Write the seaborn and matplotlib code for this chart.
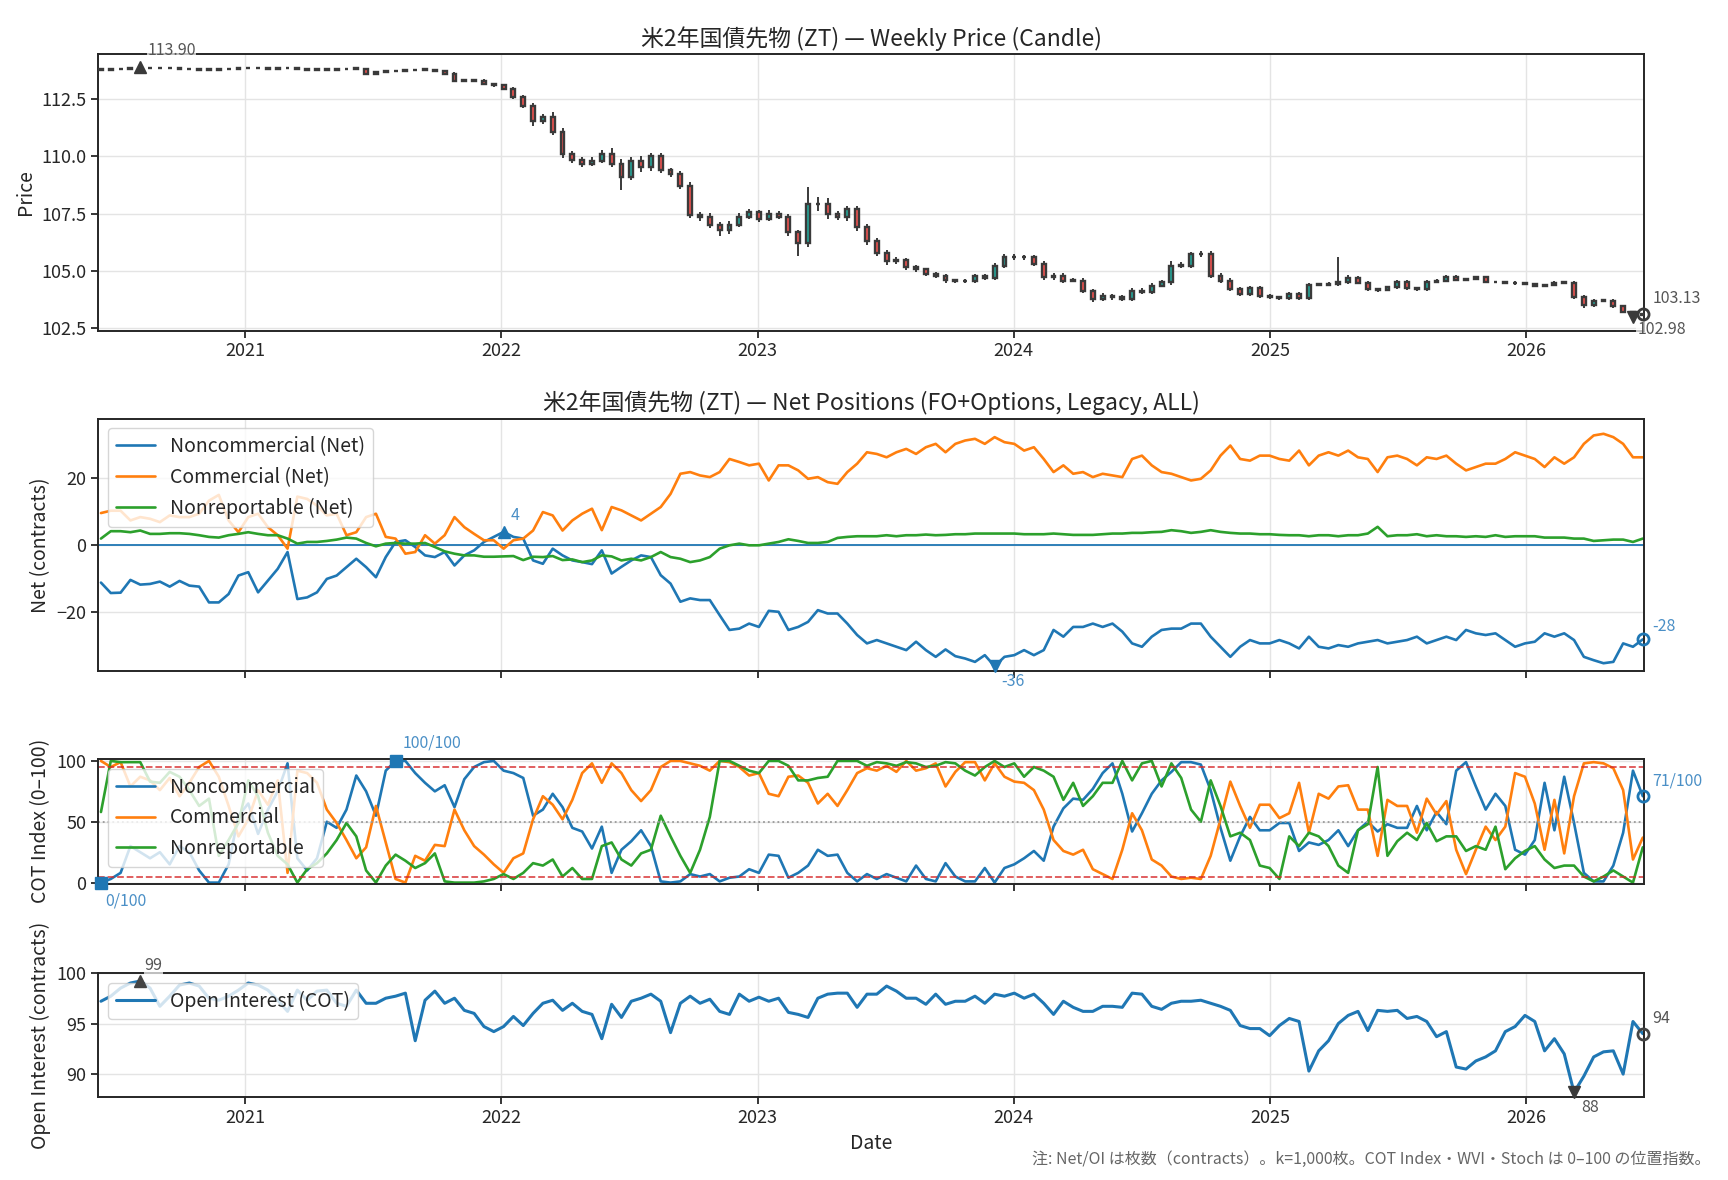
import numpy as np
import pandas as pd
import matplotlib
matplotlib.use('Agg')
import matplotlib.pyplot as plt
import matplotlib.dates as mdates
import seaborn as sns

# biweekly sampling of the weekly series
dates = pd.date_range('2020-06-09', periods=158, freq='14D')

closes = [113.78, 113.80, 113.82, 113.85, 113.86, 113.85, 113.85, 113.84, 113.83, 113.80,
          113.78, 113.78, 113.80, 113.83, 113.84, 113.84, 113.85, 113.83, 113.85, 113.87,
          113.80, 113.78, 113.78, 113.78, 113.80, 113.82, 113.82, 113.62, 113.68, 113.72,
          113.75, 113.76, 113.78, 113.78, 113.73, 113.62, 113.30, 113.33, 113.30, 113.15,
          113.10, 112.95, 112.60, 112.20, 111.55, 111.72, 111.07, 110.10, 109.85, 109.68,
          109.82, 110.10, 109.68, 109.10, 109.82, 109.53, 110.00, 109.40, 109.24, 108.73,
          107.46, 107.37, 107.02, 106.78, 107.02, 107.37, 107.56, 107.27, 107.50, 107.37,
          106.68, 106.20, 107.92, 107.92, 107.48, 107.34, 107.70, 106.90, 106.32, 105.80,
          105.44, 105.47, 105.18, 105.07, 104.88, 104.78, 104.59, 104.56, 104.56, 104.78,
          104.70, 105.22, 105.60, 105.60, 105.60, 105.30, 104.72, 104.80, 104.58, 104.58,
          104.14, 103.77, 103.92, 103.85, 103.77, 104.14, 104.06, 104.36, 104.50, 105.23,
          105.23, 105.72, 105.75, 104.80, 104.58, 104.21, 103.99, 104.25, 103.92, 103.85,
          103.81, 104.00, 103.81, 104.39, 104.39, 104.43, 104.53, 104.68, 104.49, 104.20,
          104.17, 104.29, 104.53, 104.24, 104.20, 104.53, 104.58, 104.75, 104.61, 104.64,
          104.75, 104.51, 104.53, 104.49, 104.46, 104.43, 104.35, 104.39, 104.49, 104.49,
          103.88, 103.52, 103.71, 103.71, 103.47, 103.23, 103.08, 103.13]

wick_hi = [0.03, 0.03, 0.03, 0.03, 0.04, 0.02, 0.02, 0.02, 0.02, 0.02,
           0.02, 0.02, 0.02, 0.02, 0.02, 0.02, 0.02, 0.02, 0.02, 0.02,
           0.02, 0.02, 0.02, 0.02, 0.02, 0.02, 0.02, 0.03, 0.03, 0.03,
           0.02, 0.02, 0.02, 0.02, 0.03, 0.03, 0.05, 0.05, 0.05, 0.06,
           0.05, 0.08, 0.08, 0.10, 0.15, 0.12, 0.20, 0.15, 0.15, 0.12,
           0.15, 0.20, 0.25, 0.20, 0.15, 0.20, 0.15, 0.15, 0.10, 0.12,
           0.15, 0.12, 0.15, 0.12, 0.15, 0.15, 0.15, 0.12, 0.15, 0.12,
           0.10, 0.12, 0.74, 0.30, 0.25, 0.15, 0.15, 0.15, 0.15, 0.12,
           0.12, 0.15, 0.10, 0.10, 0.08, 0.08, 0.08, 0.08, 0.08, 0.10,
           0.10, 0.12, 0.15, 0.12, 0.10, 0.10, 0.15, 0.10, 0.10, 0.10,
           0.10, 0.08, 0.10, 0.08, 0.08, 0.12, 0.10, 0.10, 0.10, 0.20,
           0.15, 0.10, 0.10, 0.10, 0.10, 0.10, 0.08, 0.08, 0.08, 0.06,
           0.06, 0.06, 0.06, 0.10, 0.08, 0.10, 1.10, 0.15, 0.10, 0.06,
           0.06, 0.06, 0.06, 0.06, 0.06, 0.08, 0.06, 0.06, 0.06, 0.06,
           0.05, 0.05, 0.05, 0.05, 0.05, 0.05, 0.05, 0.05, 0.05, 0.06,
           0.08, 0.08, 0.08, 0.06, 0.06, 0.05, 0.04, 0.05]

wick_lo = [0.03, 0.02, 0.02, 0.02, 0.02, 0.02, 0.02, 0.02, 0.02, 0.02,
           0.02, 0.02, 0.02, 0.02, 0.02, 0.02, 0.02, 0.02, 0.02, 0.02,
           0.02, 0.02, 0.02, 0.02, 0.02, 0.02, 0.02, 0.05, 0.03, 0.02,
           0.02, 0.02, 0.02, 0.02, 0.02, 0.04, 0.06, 0.05, 0.05, 0.05,
           0.05, 0.06, 0.08, 0.10, 0.20, 0.15, 0.15, 0.15, 0.12, 0.15,
           0.10, 0.12, 0.15, 0.55, 0.15, 0.20, 0.15, 0.12, 0.12, 0.15,
           0.15, 0.20, 0.15, 0.25, 0.15, 0.12, 0.10, 0.15, 0.10, 0.12,
           0.15, 0.54, 0.15, 0.30, 0.20, 0.12, 0.15, 0.15, 0.20, 0.15,
           0.20, 0.12, 0.12, 0.10, 0.10, 0.10, 0.10, 0.10, 0.10, 0.10,
           0.08, 0.10, 0.08, 0.10, 0.10, 0.10, 0.12, 0.10, 0.10, 0.08,
           0.10, 0.12, 0.08, 0.10, 0.08, 0.08, 0.08, 0.08, 0.08, 0.10,
           0.10, 0.10, 0.10, 0.10, 0.12, 0.10, 0.10, 0.08, 0.08, 0.08,
           0.08, 0.06, 0.08, 0.06, 0.06, 0.06, 0.10, 0.08, 0.08, 0.06,
           0.08, 0.06, 0.06, 0.06, 0.06, 0.06, 0.06, 0.06, 0.06, 0.06,
           0.05, 0.05, 0.05, 0.05, 0.06, 0.05, 0.05, 0.05, 0.05, 0.05,
           0.10, 0.12, 0.08, 0.08, 0.08, 0.08, 0.10, 0.05]

net_noncomm = [-11.1, -14.2, -14.1, -10.3, -11.7, -11.5, -10.8, -12.3, -10.6, -12.0,
               -12.3, -17.0, -17.0, -14.5, -9.0, -8.0, -14.0, -10.5, -7.0, -2.0,
               -16.0, -15.5, -14.0, -10.0, -9.0, -6.5, -4.0, -6.5, -9.5, -3.5,
               1.0, 1.5, -0.5, -3.0, -3.5, -2.0, -6.0, -3.0, -1.5, 1.0,
               2.5, 4.0, 2.5, 2.0, -4.5, -5.5, -1.0, -3.0, -4.5, -5.0,
               -5.6, -1.5, -8.4, -6.4, -4.5, -3.0, -3.5, -8.9, -11.4, -16.8,
               -15.8, -16.3, -16.3, -20.8, -25.2, -24.8, -23.3, -24.3, -19.5, -19.8,
               -25.2, -24.3, -22.8, -19.3, -20.3, -20.3, -23.3, -26.7, -29.2, -28.2,
               -29.2, -30.2, -31.2, -28.7, -31.2, -33.2, -31.0, -33.0, -33.7, -34.7,
               -32.7, -36.0, -33.2, -32.7, -31.2, -32.7, -31.2, -25.2, -27.2, -24.3,
               -24.3, -23.3, -24.3, -23.3, -25.7, -29.2, -30.2, -27.2, -25.2, -24.8,
               -24.8, -23.3, -23.3, -27.2, -30.2, -33.2, -30.2, -28.2, -29.2, -29.2,
               -28.2, -29.2, -30.7, -27.2, -30.2, -30.7, -29.7, -30.2, -29.2, -28.7,
               -28.2, -29.2, -28.7, -28.2, -27.2, -29.2, -28.2, -27.2, -28.2, -25.2,
               -26.2, -26.7, -26.2, -28.2, -30.2, -29.2, -28.7, -26.2, -27.2, -26.2,
               -28.2, -33.2, -34.2, -35.1, -34.7, -29.2, -30.2, -28.0]

net_comm = [9.6, 10.3, 10.3, 7.4, 8.4, 7.9, 6.9, 8.9, 8.4, 8.4,
            9.4, 13.3, 15.0, 7.4, 3.9, 8.4, 9.4, 5.4, 3.0, -1.0,
            14.5, 13.8, 11.8, 8.9, 9.4, 3.0, 3.9, 8.4, 9.4, 2.5,
            2.0, -2.5, -2.0, 3.0, 0.5, 3.0, 8.4, 5.4, 3.4, 1.5,
            1.5, -1.0, 1.5, 2.0, 4.4, 9.9, 8.9, 4.4, 7.4, 9.4,
            10.9, 4.5, 11.4, 10.4, 8.9, 7.4, 9.4, 11.4, 15.3, 21.3,
            21.8, 20.8, 20.3, 21.8, 25.7, 24.8, 23.8, 24.3, 19.3, 23.8,
            23.8, 22.3, 19.8, 20.3, 18.8, 18.3, 21.8, 24.3, 27.7, 27.2,
            26.2, 27.7, 28.7, 27.2, 29.2, 30.2, 27.7, 30.2, 31.2, 31.7,
            30.2, 32.2, 30.7, 30.2, 28.2, 29.2, 25.7, 21.8, 23.8, 21.3,
            21.8, 20.3, 21.3, 20.8, 20.3, 25.7, 26.7, 23.8, 21.8, 21.3,
            20.3, 19.3, 19.8, 22.3, 26.7, 29.7, 25.7, 25.2, 26.7, 26.7,
            25.7, 25.2, 28.2, 23.8, 26.7, 27.7, 26.7, 28.2, 26.2, 25.7,
            21.8, 26.2, 26.7, 25.7, 23.8, 26.2, 25.7, 26.7, 24.3, 22.3,
            23.3, 24.3, 24.3, 25.7, 27.7, 26.7, 25.7, 23.3, 26.2, 24.3,
            26.2, 30.2, 32.7, 33.2, 32.2, 30.2, 26.2, 26.2]

net_nonrep = [2.0, 4.2, 4.2, 3.9, 4.4, 3.4, 3.4, 3.6, 3.6, 3.4,
              3.0, 2.5, 2.3, 3.0, 3.4, 3.9, 3.4, 3.0, 3.0, 2.0,
              0.5, 1.0, 1.0, 1.3, 1.7, 2.3, 2.0, 0.7, -0.3, 0.5,
              0.7, 0.5, 0.5, 0.7, -0.5, -1.8, -2.5, -3.0, -3.0, -3.4,
              -3.4, -3.3, -3.2, -4.4, -3.4, -3.5, -3.2, -4.4, -4.2, -5.0,
              -4.5, -3.0, -3.3, -4.5, -4.0, -4.5, -3.5, -2.0, -3.5, -4.0,
              -5.0, -4.5, -3.5, -1.0, 0.0, 0.5, 0.0, 0.0, 0.5, 1.0,
              1.8, 1.3, 0.7, 0.7, 1.0, 2.2, 2.5, 2.7, 2.7, 2.7,
              3.0, 2.7, 3.0, 3.0, 3.2, 3.0, 3.1, 3.3, 3.3, 3.5,
              3.5, 3.5, 3.5, 3.5, 3.3, 3.3, 3.3, 3.5, 3.3, 3.1,
              3.1, 3.1, 3.3, 3.5, 3.5, 3.7, 3.7, 3.9, 4.0, 4.5,
              4.2, 3.7, 4.0, 4.5, 4.0, 3.7, 3.5, 3.5, 3.3, 3.3,
              3.1, 3.0, 3.0, 2.7, 3.0, 3.0, 2.7, 3.0, 3.0, 3.5,
              5.5, 2.7, 3.0, 3.0, 3.3, 2.7, 3.0, 2.7, 2.7, 2.5,
              2.7, 2.5, 3.0, 2.5, 2.7, 2.7, 2.7, 2.3, 2.3, 2.3,
              2.0, 2.0, 1.3, 1.5, 1.7, 1.7, 1.0, 2.0]

cot_noncomm = [0, 3, 8, 30, 25, 20, 25, 15, 30, 25,
               10, 0, 0, 15, 55, 65, 40, 60, 75, 98,
               20, 10, 20, 50, 45, 60, 88, 75, 55, 92,
               100, 100, 90, 82, 75, 80, 62, 85, 95, 99,
               100, 92, 90, 86, 55, 60, 73, 62, 45, 42,
               28, 46, 8, 27, 34, 43, 30, 1, 0, 1,
               7, 5, 7, 1, 4, 5, 11, 8, 23, 22,
               4, 8, 14, 27, 22, 23, 8, 1, 7, 3,
               7, 4, 1, 14, 3, 1, 16, 5, 1, 1,
               12, 0, 12, 15, 20, 26, 18, 46, 61, 69,
               68, 77, 90, 98, 73, 42, 57, 73, 84, 91,
               99, 99, 97, 76, 45, 18, 38, 54, 43, 43,
               49, 49, 26, 33, 31, 35, 43, 30, 43, 50,
               42, 48, 45, 45, 63, 43, 58, 48, 92, 99,
               79, 60, 73, 63, 27, 23, 35, 82, 43, 87,
               49, 8, 1, 1, 14, 41, 92, 71]

cot_comm = [100, 95, 99, 79, 87, 84, 76, 86, 71, 82,
            95, 100, 87, 63, 38, 52, 76, 64, 84, 8,
            92, 90, 82, 60, 49, 35, 20, 29, 63, 33,
            3, 0, 22, 18, 31, 30, 60, 43, 30, 23,
            15, 8, 20, 24, 52, 71, 64, 52, 68, 90,
            98, 82, 98, 90, 76, 67, 76, 95, 100, 100,
            98, 96, 92, 100, 99, 95, 88, 90, 73, 71,
            87, 88, 82, 65, 73, 63, 76, 90, 94, 92,
            96, 91, 100, 92, 94, 98, 79, 91, 99, 99,
            84, 98, 87, 83, 82, 76, 60, 35, 26, 23,
            27, 11, 7, 3, 27, 57, 43, 19, 14, 5,
            3, 4, 3, 22, 52, 83, 63, 45, 64, 64,
            53, 57, 82, 41, 73, 69, 79, 80, 60, 60,
            22, 68, 63, 63, 41, 69, 56, 67, 27, 7,
            27, 46, 35, 46, 90, 87, 65, 27, 68, 24,
            71, 98, 99, 98, 94, 76, 19, 37]

cot_nonrep = [58, 100, 99, 99, 99, 83, 82, 91, 87, 76,
              63, 69, 22, 35, 49, 84, 71, 41, 22, 15,
              0, 11, 16, 24, 35, 49, 38, 10, 0, 14,
              23, 18, 12, 16, 24, 1, 0, 0, 0, 1,
              3, 7, 3, 8, 16, 14, 19, 5, 12, 3,
              3, 30, 33, 19, 14, 24, 27, 55, 38, 22,
              8, 27, 54, 100, 100, 96, 92, 90, 100, 100,
              96, 84, 84, 86, 87, 100, 100, 100, 96, 99,
              98, 96, 99, 98, 95, 96, 99, 98, 92, 88,
              95, 100, 95, 98, 87, 95, 92, 87, 68, 82,
              63, 71, 82, 82, 100, 84, 98, 100, 79, 98,
              86, 60, 50, 84, 63, 38, 41, 35, 14, 12,
              3, 38, 30, 41, 38, 30, 14, 8, 43, 48,
              95, 22, 34, 41, 35, 49, 34, 38, 38, 26,
              30, 27, 46, 11, 20, 26, 30, 19, 12, 14,
              14, 5, 1, 5, 10, 5, 0, 29]

open_interest = [97.2, 97.7, 98.5, 99.0, 99.2, 98.5, 96.7, 97.7, 98.8, 99.0,
                 98.7, 97.5, 97.3, 97.7, 98.3, 99.0, 98.8, 98.3, 97.3, 96.2,
                 98.3, 97.3, 98.2, 98.3, 97.0, 96.7, 98.3, 97.0, 97.0, 97.5,
                 97.7, 98.0, 93.3, 97.3, 98.2, 97.0, 97.5, 96.3, 96.0, 94.7,
                 94.2, 94.7, 95.7, 94.8, 96.0, 97.0, 97.3, 96.3, 97.0, 96.2,
                 95.9, 93.5, 96.9, 95.6, 97.2, 97.5, 97.9, 97.2, 94.1, 97.0,
                 97.7, 97.0, 97.4, 96.2, 95.9, 97.9, 97.2, 97.6, 97.2, 97.5,
                 96.1, 95.9, 95.6, 97.5, 97.9, 98.0, 98.0, 96.6, 97.9, 97.9,
                 98.7, 98.2, 97.5, 97.5, 96.9, 97.9, 96.9, 97.2, 97.2, 97.7,
                 97.0, 97.9, 97.7, 98.0, 97.5, 97.9, 97.0, 95.9, 97.2, 96.6,
                 96.2, 96.2, 96.7, 96.7, 96.6, 98.0, 97.9, 96.7, 96.4, 97.0,
                 97.2, 97.2, 97.3, 97.0, 96.7, 96.3, 94.8, 94.5, 94.5, 93.8,
                 94.8, 95.5, 95.2, 90.3, 92.3, 93.3, 95.0, 95.8, 96.2, 94.3,
                 96.3, 96.2, 96.3, 95.5, 95.7, 95.2, 93.7, 94.2, 90.7, 90.5,
                 91.3, 91.7, 92.3, 94.2, 94.7, 95.8, 95.2, 92.3, 93.5, 92.0,
                 88.2, 89.8, 91.7, 92.2, 92.3, 90.0, 95.2, 94.0]

title_price = '米2年国債先物 (ZT) — Weekly Price (Candle)'
title_net = '米2年国債先物 (ZT) — Net Positions (FO+Options, Legacy, ALL)'
note = '注: Net/OI は枚数（contracts）。k=1,000枚。COT Index・WVI・Stoch は 0–100 の位置指数。'

sns.set_style('ticks', {'axes.grid': True, 'grid.color': '#e4e4e4',
                        'axes.edgecolor': '#262626'})
plt.rcParams['font.family'] = ['Noto Sans CJK JP', 'DejaVu Sans']
plt.rcParams['axes.linewidth'] = 1.4

blue, orange, green = '#1f77b4', '#ff7f0e', '#2ca02c'
dark = '#3a3a3a'
lbl_blue = '#4a8fc6'
lbl_gray = '#555555'
FS_TICK, FS_LAB, FS_LEG, FS_TITLE, FS_ANN = 13, 14, 14, 16.5, 11.5

fig = plt.figure(figsize=(17.28, 11.8), dpi=100)
L, W = 0.0568, 0.8947
ax1 = fig.add_axes([L, 0.7199, W, 0.2343])
ax2 = fig.add_axes([L, 0.4314, W, 0.2138])
ax3 = fig.add_axes([L, 0.2512, W, 0.1055], sharex=ax2)
ax4 = fig.add_axes([L, 0.0700, W, 0.1055], sharex=ax2)

xlim = (pd.Timestamp('2020-06-05'), pd.Timestamp('2026-06-18'))


def mark(ax, x, y, marker, color, text, dx, dy, tcolor, hollow=False, box=False):
    ax.plot([x], [y], marker=marker, ms=8, ls='none', color=color,
            mfc='none' if hollow else color, mew=2 if hollow else 1, zorder=6,
            clip_on=False)
    ax.annotate(text, (x, y), xytext=(dx, dy), textcoords='offset points',
                ha='left', va='bottom' if dy > 0 else 'top', fontsize=FS_ANN,
                color=tcolor, annotation_clip=False,
                bbox=dict(fc='white', ec='none', alpha=0.7, pad=0.5) if box else None)


# ---- price candles
c = np.array(closes)
o = np.r_[c[0], c[:-1]]
hi = np.maximum(o, c) + np.array(wick_hi)
lo = np.minimum(o, c) - np.array(wick_lo)
up = c >= o
body_lo = np.minimum(o, c)
body_h = np.maximum(np.abs(c - o), 0.02)
ax1.vlines(dates, lo, hi, color=dark, lw=1.4, zorder=3)
ax1.bar(dates, body_h, bottom=body_lo, width=5.5,
        color=np.where(up, '#26a69a', '#ef5350'), edgecolor=dark, linewidth=1.7, zorder=4)
ax1.set_ylim(102.4, 114.47)
ax1.set_yticks([102.5, 105.0, 107.5, 110.0, 112.5])
ax1.yaxis.set_major_formatter(matplotlib.ticker.FormatStrFormatter('%.1f'))
ax1.set_xlim(xlim)
ax1.xaxis.set_major_locator(mdates.YearLocator())
ax1.xaxis.set_major_formatter(mdates.DateFormatter('%Y'))
ax1.set_ylabel('Price', fontsize=FS_LAB)
ax1.set_title(title_price, fontsize=FS_TITLE)
imax, imin = int(np.argmax(hi)), int(np.argmin(lo))
mark(ax1, dates[imax], hi[imax], '^', dark, f'{hi[imax]:.2f}', 5, 6, lbl_gray, box=True)
mark(ax1, dates[imin], lo[imin], 'v', dark, f'{lo[imin]:.2f}', 3, -3, lbl_gray, box=True)
mark(ax1, dates[-1], c[-1], 'o', dark, f'{c[-1]:.2f}', 7, 5, lbl_gray, hollow=True)

# ---- net positions
net_df = pd.DataFrame({'date': dates, 'Noncommercial (Net)': net_noncomm,
                       'Commercial (Net)': net_comm, 'Nonreportable (Net)': net_nonrep})
for name, col in zip(['Noncommercial (Net)', 'Commercial (Net)', 'Nonreportable (Net)'],
                     [blue, orange, green]):
    sns.lineplot(data=net_df, x='date', y=name, ax=ax2, color=col, lw=1.9, label=name)
ax2.axhline(0, color=blue, lw=1.3, zorder=1)
ax2.set_ylim(-37.4, 37.7)
ax2.set_yticks([-20, 0, 20])
ax2.set_ylabel('Net (contracts)', fontsize=FS_LAB)
ax2.set_xlabel('')
ax2.set_title(title_net, fontsize=FS_TITLE)
ax2.legend(loc='upper left', fontsize=FS_LEG, framealpha=0.8)
nc = np.array(net_noncomm)
imax, imin = int(np.argmax(nc)), int(np.argmin(nc))
mark(ax2, dates[imax], nc[imax], '^', blue, f'{nc[imax]:.0f}', 5, 6, lbl_blue)
mark(ax2, dates[imin], nc[imin], 'v', blue, f'{nc[imin]:.0f}', 5, -5, lbl_blue)
mark(ax2, dates[-1], nc[-1], 'o', blue, f'{nc[-1]:.0f}', 7, 3, lbl_blue, hollow=True)

# ---- COT index
cot_df = pd.DataFrame({'date': dates, 'Noncommercial': cot_noncomm,
                       'Commercial': cot_comm, 'Nonreportable': cot_nonrep})
for name, col in zip(['Noncommercial', 'Commercial', 'Nonreportable'], [blue, orange, green]):
    sns.lineplot(data=cot_df, x='date', y=name, ax=ax3, color=col, lw=1.9, label=name)
ax3.axhline(95, color='#d62728', ls='--', lw=1.3, alpha=0.8)
ax3.axhline(5, color='#d62728', ls='--', lw=1.3, alpha=0.8)
ax3.axhline(50, color='#999999', ls=':', lw=1.3)
ax3.set_ylim(-0.8, 101.5)
ax3.set_yticks([0, 50, 100])
ax3.set_ylabel('COT Index (0–100)', fontsize=FS_LAB)
ax3.set_xlabel('')
ax3.legend(loc='upper left', fontsize=FS_LEG, framealpha=0.8)
ci = np.array(cot_noncomm)
imax, imin = int(np.argmax(ci)), int(np.argmin(ci))
mark(ax3, dates[imax], ci[imax], 's', blue, f'{ci[imax]}/100', 5, 7, lbl_blue)
mark(ax3, dates[imin], ci[imin], 's', blue, f'{ci[imin]}/100', 3, -7, lbl_blue)
mark(ax3, dates[-1], ci[-1], 'o', blue, f'{ci[-1]}/100', 7, 5, lbl_blue, hollow=True)

# ---- open interest
oi_df = pd.DataFrame({'date': dates, 'Open Interest (COT)': open_interest})
sns.lineplot(data=oi_df, x='date', y='Open Interest (COT)', ax=ax4, color=blue, lw=2.2,
             label='Open Interest (COT)')
ax4.set_ylim(87.7, 100)
ax4.set_yticks([90, 95, 100])
ax4.set_ylabel('Open Interest (contracts)', fontsize=FS_LAB)
ax4.set_xlabel('Date', fontsize=FS_LAB)
ax4.legend(loc='upper left', fontsize=FS_LEG, framealpha=0.8)
oi = np.array(open_interest)
imax, imin = int(np.argmax(oi)), int(np.argmin(oi))
mark(ax4, dates[imax], oi[imax], '^', '#444444', f'{oi[imax]:.0f}', 3, 5, lbl_gray, box=True)
mark(ax4, dates[imin], oi[imin], 'v', dark, f'{oi[imin]:.0f}', 5, -5, lbl_gray, box=True)
mark(ax4, dates[-1], oi[-1], 'o', '#444444', f'{oi[-1]:.0f}', 7, 5, lbl_gray, hollow=True)

for ax in (ax2, ax3, ax4):
    ax.set_xlim(xlim)
    ax.xaxis.set_major_locator(mdates.YearLocator())
    ax.xaxis.set_major_formatter(mdates.DateFormatter('%Y'))
ax2.tick_params(labelbottom=False)
ax3.tick_params(labelbottom=False)
for ax in (ax1, ax2, ax3, ax4):
    ax.tick_params(labelsize=FS_TICK, length=5, width=1.3)
    ax.grid(True, color='#e4e4e4', lw=1)
    for s in ax.spines.values():
        s.set_visible(True)
        s.set_color('#262626')

fig.text(0.99, 0.0177, note, ha='right', va='center', fontsize=11.5, color='#666666')

fig.savefig('out.png', dpi=100)
